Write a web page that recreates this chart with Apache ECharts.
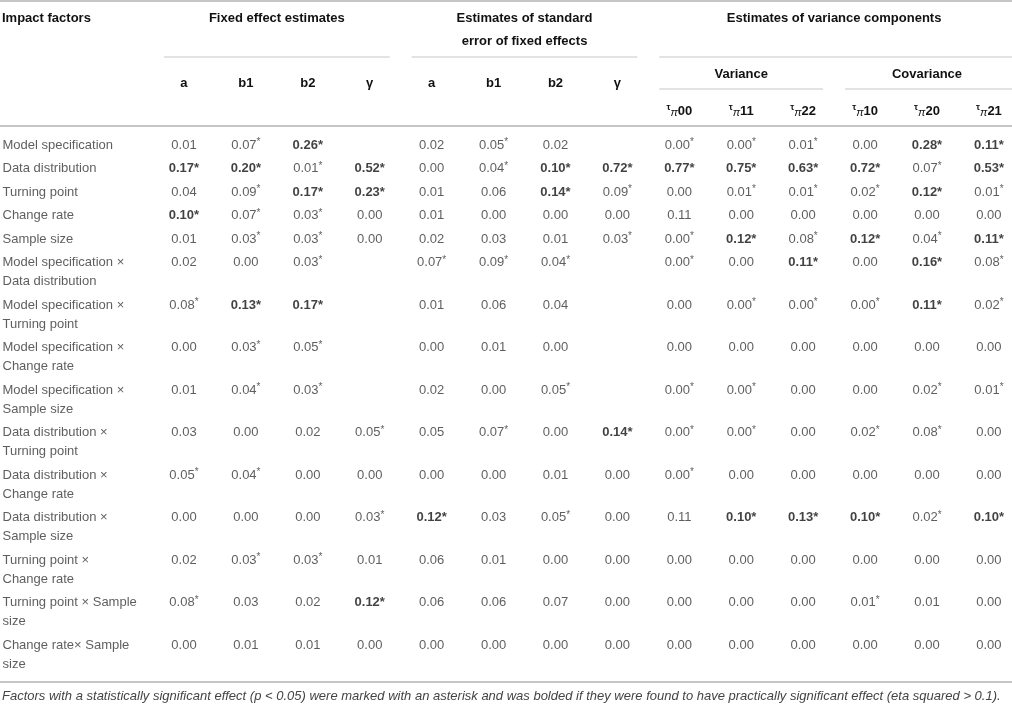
<!DOCTYPE html>
<html>
<head>
<meta charset="utf-8">
<script src="https://cdn.jsdelivr.net/npm/echarts@6/dist/echarts.min.js"></script>
<style>
  html, body { margin: 0; padding: 0; background: #fff; }
  #chart { width: 1012px; height: 705px; }
</style>
</head>
<body>
<div id="chart"></div>
<script>
// row labels
var factors = [
  'Model specification',
  'Data distribution',
  'Turning point',
  'Change rate',
  'Sample size',
  'Model specification \u00d7\nData distribution',
  'Model specification \u00d7\nTurning point',
  'Model specification \u00d7\nChange rate',
  'Model specification \u00d7\nSample size',
  'Data distribution \u00d7\nTurning point',
  'Data distribution \u00d7\nChange rate',
  'Data distribution \u00d7\nSample size',
  'Turning point \u00d7\nChange rate',
  'Turning point \u00d7 Sample\nsize',
  'Change rate\u00d7 Sample\nsize'
];

// header labels
var fixedNames = ['a', 'b1', 'b2', '\u03b3'];
var tauNames = ['00', '11', '22', '10', '20', '21'];

// '*' = p < 0.05, '**' = also practically significant (bold)
// fixed effect estimates
var fixedA  = ['0.01', '0.17**', '0.04', '0.10**', '0.01', '0.02', '0.08*', '0.00', '0.01', '0.03', '0.05*', '0.00', '0.02', '0.08*', '0.00'];
var fixedB1 = ['0.07*', '0.20**', '0.09*', '0.07*', '0.03*', '0.00', '0.13**', '0.03*', '0.04*', '0.00', '0.04*', '0.00', '0.03*', '0.03', '0.01'];
var fixedB2 = ['0.26**', '0.01*', '0.17**', '0.03*', '0.03*', '0.03*', '0.17**', '0.05*', '0.03*', '0.02', '0.00', '0.00', '0.03*', '0.02', '0.01'];
var fixedG  = ['', '0.52**', '0.23**', '0.00', '0.00', '', '', '', '', '0.05*', '0.00', '0.03*', '0.01', '0.12**', '0.00'];
// standard error of fixed effects
var seA  = ['0.02', '0.00', '0.01', '0.01', '0.02', '0.07*', '0.01', '0.00', '0.02', '0.05', '0.00', '0.12**', '0.06', '0.06', '0.00'];
var seB1 = ['0.05*', '0.04*', '0.06', '0.00', '0.03', '0.09*', '0.06', '0.01', '0.00', '0.07*', '0.00', '0.03', '0.01', '0.06', '0.00'];
var seB2 = ['0.02', '0.10**', '0.14**', '0.00', '0.01', '0.04*', '0.04', '0.00', '0.05*', '0.00', '0.01', '0.05*', '0.00', '0.07', '0.00'];
var seG  = ['', '0.72**', '0.09*', '0.00', '0.03*', '', '', '', '', '0.14**', '0.00', '0.00', '0.00', '0.00', '0.00'];
// variance components
var tau00 = ['0.00*', '0.77**', '0.00', '0.11', '0.00*', '0.00*', '0.00', '0.00', '0.00*', '0.00*', '0.00*', '0.11', '0.00', '0.00', '0.00'];
var tau11 = ['0.00*', '0.75**', '0.01*', '0.00', '0.12**', '0.00', '0.00*', '0.00', '0.00*', '0.00*', '0.00', '0.10**', '0.00', '0.00', '0.00'];
var tau22 = ['0.01*', '0.63**', '0.01*', '0.00', '0.08*', '0.11**', '0.00*', '0.00', '0.00', '0.00', '0.00', '0.13**', '0.00', '0.00', '0.00'];
// covariance components
var tau10 = ['0.00', '0.72**', '0.02*', '0.00', '0.12**', '0.00', '0.00*', '0.00', '0.00', '0.02*', '0.00', '0.10**', '0.00', '0.01*', '0.00'];
var tau20 = ['0.28**', '0.07*', '0.12**', '0.00', '0.04*', '0.16**', '0.11**', '0.00', '0.02*', '0.08*', '0.00', '0.02*', '0.00', '0.01', '0.00'];
var tau21 = ['0.11**', '0.53**', '0.01*', '0.00', '0.11**', '0.08*', '0.02*', '0.00', '0.01*', '0.00', '0.00', '0.10**', '0.00', '0.00', '0.00'];

var columnValues = [fixedA, fixedB1, fixedB2, fixedG, seA, seB1, seB2, seG, tau00, tau11, tau22, tau10, tau20, tau21];

var footnote = 'Factors with a statistically significant effect (p < 0.05) were marked with an asterisk and was bolded if they were found to have practically significant effect (eta squared > 0.1).';

// layout
var FONT = '"Liberation Sans", Arial, Helvetica, sans-serif';
var TXT = '#363636', BOLD = '#111', RULE = '#c6c6c6';
var ROW_H = 23.5, LINE_H = 19, PAD = 6.25, BODY_TOP = 127;
var GRID_LEFT = 153, COL_W = 61.92, W = 1012;

var rowY = [], rowMid = [];
var acc = PAD;
factors.forEach(function (f) {
  var lines = f.split('\n').length;
  rowY.push(acc + ROW_H / 2);
  rowMid.push(acc + ROW_H / 2 + (lines - 1) * LINE_H / 2);
  acc += ROW_H + (lines - 1) * LINE_H;
});
var BODY_H = acc + PAD;

function cellText(v) {
  if (v.slice(-2) === '**') return '{b|' + v.slice(0, -2) + '*}';
  if (v.slice(-1) === '*') return '{n|' + v.slice(0, -1) + '}{s|*}';
  return '{n|' + v + '}';
}

var cellData = [];
columnValues.forEach(function (vals, c) {
  vals.forEach(function (v, r) {
    if (v) cellData.push([c, rowY[r], v]);
  });
});
var factorData = factors.map(function (f, r) { return [0, rowMid[r], f]; });

var chart = echarts.init(document.getElementById('chart'));
chart.setOption({
  animation: false,
  backgroundColor: '#fff',
  textStyle: { fontFamily: FONT },
  grid: [
    { left: 0, width: 150, top: BODY_TOP, height: BODY_H },
    { left: GRID_LEFT, right: 0, top: BODY_TOP, height: BODY_H }
  ],
  xAxis: [
    { gridIndex: 0, type: 'value', min: 0, max: 1, show: false },
    { gridIndex: 1, type: 'value', min: -0.5, max: (W - GRID_LEFT) / COL_W - 0.5, show: false }
  ],
  yAxis: [
    { gridIndex: 0, type: 'value', min: 0, max: BODY_H, inverse: true, show: false },
    { gridIndex: 1, type: 'value', min: 0, max: BODY_H, inverse: true, show: false }
  ],
  series: [
    {
      type: 'scatter', xAxisIndex: 0, yAxisIndex: 0, data: factorData,
      symbolSize: 1, itemStyle: { color: 'transparent' }, silent: true,
      label: {
        show: true, position: 'right', distance: 2, align: 'left',
        formatter: function (p) { return p.value[2]; },
        fontFamily: FONT, fontSize: 13, lineHeight: LINE_H, color: TXT
      }
    },
    {
      type: 'scatter', xAxisIndex: 1, yAxisIndex: 1, data: cellData,
      symbolSize: 1, itemStyle: { color: 'transparent' }, silent: true,
      label: {
        show: true, position: 'inside',
        formatter: function (p) { return cellText(p.value[2]); },
        rich: {
          n: { fontFamily: FONT, fontSize: 13, color: TXT },
          s: { fontFamily: FONT, fontSize: 10, color: TXT, padding: [0, 0, 5, 0] },
          b: { fontFamily: FONT, fontSize: 13, fontWeight: 'bold', color: BOLD }
        }
      }
    }
  ]
});

// header, drawn against the column axis
function colX(i) { return chart.convertToPixel({ xAxisIndex: 1 }, i); }
var inset = (colX(1) - colX(0)) / 2 - 11;
var LAST = columnValues.length - 1;

function hText(text, x, y, align, extra) {
  var style = {
    text: text, x: x, y: y, align: align || 'center', verticalAlign: 'middle',
    fontFamily: FONT, fontSize: 13, fontWeight: 'bold', fill: BOLD
  };
  for (var k in extra) style[k] = extra[k];
  return { type: 'text', silent: true, style: style };
}
function rule(x1, x2, y, w) {
  return { type: 'line', silent: true, shape: { x1: x1, y1: y, x2: x2, y2: y },
    style: { stroke: RULE, lineWidth: w } };
}
function span(a, b, y) {
  return rule(colX(a) - inset, b === LAST ? W : colX(b) + inset, y, 1);
}
function mid(a, b) { return (colX(a) + colX(b)) / 2; }

var g = [
  rule(0, W, 1, 2),
  rule(0, W, BODY_TOP - 1, 2),
  rule(0, W, BODY_TOP + BODY_H, 2),
  hText('Impact factors', 2, 18, 'left'),
  hText('Fixed effect estimates', mid(0, 3), 18),
  hText('Estimates of standard\nerror of fixed effects', mid(4, 7), 29.5, 'center', { lineHeight: 23 }),
  hText('Estimates of variance components', mid(8, 13), 18),
  span(0, 3, 57), span(4, 7, 57), span(8, 13, 57),
  hText('Variance', mid(8, 10), 74),
  hText('Covariance', mid(11, 13), 74),
  span(8, 10, 89), span(11, 13, 89),
  { type: 'text', silent: true, style: {
      text: footnote, x: 2, y: 696, align: 'left', verticalAlign: 'middle',
      fontFamily: FONT, fontSize: 13, fontStyle: 'italic', fill: '#444' } }
];
for (var i = 0; i < 8; i++) {
  g.push(hText(fixedNames[i % 4], colX(i), 83));
}
tauNames.forEach(function (t, j) {
  g.push(hText('{t|\u03c4}{p|\u03c0}{h|' + t + '}', colX(8 + j), 111, 'center', {
    rich: {
      t: { fontFamily: FONT, fontSize: 9, fontWeight: 'bold', fill: BOLD, padding: [0, 0, 7, 0] },
      p: { fontFamily: FONT, fontSize: 11, fontStyle: 'italic', fill: BOLD, padding: [3, 0, 0, 0] },
      h: { fontFamily: FONT, fontSize: 13, fontWeight: 'bold', fill: BOLD }
    }
  }));
});
chart.setOption({ graphic: g });
</script>
</body>
</html>
